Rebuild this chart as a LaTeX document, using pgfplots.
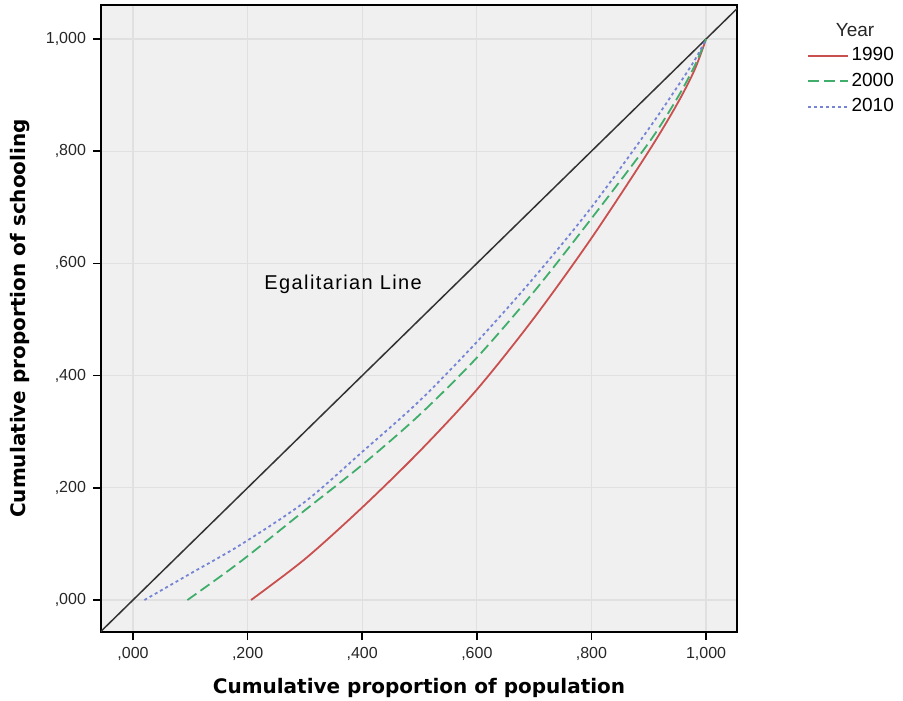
\documentclass[border=0pt]{standalone}
\usepackage{fontspec}
\setmainfont{Liberation Sans}
\newfontfamily\labfont{DejaVu Sans}
\newfontfamily\egfont[LetterSpace=7]{Liberation Sans}
\usepackage{pgfplots}
\pgfplotsset{compat=1.18}
\definecolor{bg}{HTML}{F0F0F0}
\definecolor{gridc}{HTML}{E0E0E0}
\definecolor{c1990}{HTML}{C9504F}
\definecolor{c2000}{HTML}{3FAE6B}
\definecolor{c2010}{HTML}{7584D5}
\definecolor{eg}{HTML}{333333}
\definecolor{txt}{HTML}{262626}
\begin{document}
\begin{tikzpicture}[x=1pt,y=1pt]
\useasboundingbox (-50.5,-34) rectangle (401,316);
\begin{axis}[
  at={(0,0)}, anchor=south west, scale only axis,
  width=318pt, height=313.5pt,
  xmin=-0.0558, xmax=1.054, ymin=-0.057, ymax=1.0606,
  axis background/.style={fill=bg},
  grid=major, major grid style={gridc, line width=0.6pt},
  xtick={0,0.2,0.4,0.6,0.8,1},
  ytick={0,0.2,0.4,0.6,0.8,1},
  xticklabels={{,000},{,200},{,400},{,600},{,800},{1,000}},
  yticklabels={{,000},{,200},{,400},{,600},{,800},{1,000}},
  tick align=outside, xtick pos=bottom, ytick pos=left,
  major tick length=4pt,
  tick style={black, line width=0.8pt},
  ticklabel style={font=\fontsize{8}{9}\selectfont, text=txt},
  axis line style={black, line width=0.6pt},
  xlabel={Cumulative proportion of population},
  ylabel={Cumulative proportion of schooling},
  label style={font=\labfont\bfseries\fontsize{10}{12}\selectfont},
  xlabel style={at={(axis description cs:0.5,-0.0885)}, anchor=center},
  ylabel style={at={(axis description cs:-0.1274,0.5)}, anchor=center},
  legend style={at={(rel axis cs:1.1006,0.943)}, anchor=north west,
    draw=none, fill=none, font=\fontsize{9.5}{10.5}\selectfont,
    row sep=2.2pt, nodes={inner sep=1.2pt}},
  legend cell align=left,
  legend image code/.code={\draw[#1] (0pt,0pt) -- (20pt,0pt);},
]
\addplot[eg, line width=0.75pt, forget plot] coordinates {(-0.07,-0.07) (1.07,1.07)};
\addplot[color=c1990, line width=0.9pt, smooth, tension=0.5] coordinates {
 (0.206,0) (0.3,0.073) (0.4,0.165) (0.5,0.265) (0.6,0.375) (0.7,0.503)
 (0.8,0.645) (0.9,0.80) (0.95,0.885) (0.98,0.945) (1,1)};
\addlegendentry{1990}
\addplot[color=c2000, line width=0.9pt, dash pattern=on 5.5pt off 2.5pt, smooth, tension=0.5] coordinates {
 (0.095,0) (0.187,0.068) (0.3,0.16) (0.4,0.241) (0.5,0.33) (0.6,0.432)
 (0.7,0.55) (0.8,0.68) (0.9,0.815) (0.95,0.895) (0.98,0.952) (1,1)};
\addlegendentry{2000}
\addplot[color=c2010, line width=0.9pt, dash pattern=on 1.5pt off 1.5pt, smooth, tension=0.5] coordinates {
 (0.02,0) (0.1,0.047) (0.187,0.098) (0.3,0.175) (0.4,0.264) (0.5,0.355)
 (0.6,0.46) (0.7,0.575) (0.8,0.70) (0.9,0.84) (0.95,0.915) (0.98,0.962) (1,1)};
\addlegendentry{2010}
\node[anchor=base west, inner sep=0pt, font=\egfont\fontsize{10}{12}\selectfont]
  at (axis cs:0.2286,0.554) {Egalitarian Line};
\end{axis}
\node[anchor=center, inner sep=0pt, font=\fontsize{9.5}{10.5}\selectfont, text=txt]
  at (377,301) {Year};
\end{tikzpicture}
\end{document}
